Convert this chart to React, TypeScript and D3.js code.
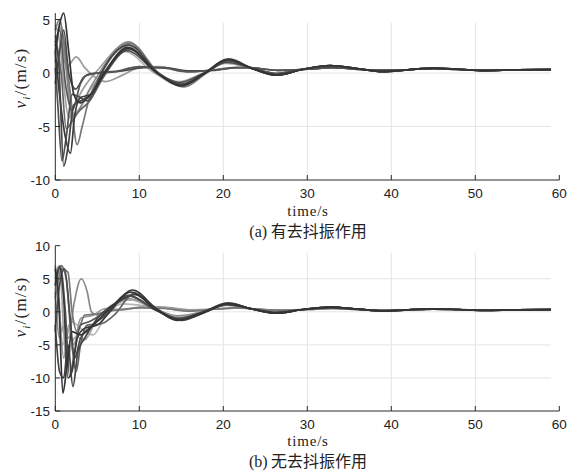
import React from "react";
import * as d3 from "d3";

type P = [number, number];

const xTicks = [0, 10, 20, 30, 40, 50, 60];
const topYTicks = [-10, -5, 0, 5];
const botYTicks = [-15, -10, -5, 0, 5, 10];

// tails (t >= 23)
const tailA: P[] = [[23.5, 0.4], [26.3, -0.2], [29.5, 0.35], [32.7, 0.7], [36, 0.4], [39, 0.12], [42, 0.3], [45, 0.45], [48, 0.35], [51, 0.22], [55, 0.3], [59, 0.32]];
const tailB: P[] = [[23.5, 0.45], [26.3, -0.05], [29.5, 0.35], [32.7, 0.6], [36, 0.4], [39, 0.18], [42, 0.3], [45, 0.42], [48, 0.35], [51, 0.25], [55, 0.3], [59, 0.32]];
const tailC: P[] = [[23, 0.5], [26.5, 0.25], [30, 0.35], [33, 0.5], [37, 0.3], [41, 0.3], [45, 0.4], [50, 0.28], [55, 0.3], [59, 0.32]];

const top1: P[] = [[0, 2], [0.5, 4.5], [1.0, 5.6], [1.6, 2], [2.2, -2], [3.0, -2.8], [4, -2.2], [5.8, 0], [8.6, 2.4], [12, 0.1], [15, -1.2], [17.8, 0], [20.5, 1.3]];
const top2: P[] = [[0, 3], [0.4, 1], [1.0, -8.7], [1.5, -7], [2.2, -3], [3.3, -2.5], [4.5, -1.8], [5.5, 0], [8.8, 2.6], [12.2, 0], [15.2, -1.1], [17.9, 0], [20.7, 1.2]];
const top3: P[] = [[0, 0.5], [0.3, -3], [0.8, -8.2], [1.3, -6], [2.0, -2], [2.8, -2.2], [3.8, -2.6], [5.7, -0.2], [8.5, 2.1], [12, 0.1], [14.8, -0.9], [17.7, 0], [20.4, 1.0]];
const top4: P[] = [[0, 4], [0.5, 5], [1, 3], [1.8, -2], [2.6, -6.7], [3.2, -5], [4, -2.5], [5.5, 0], [8.9, 2.8], [12.3, 0], [15.3, -1.3], [18, 0], [20.8, 1.3]];
const top5: P[] = [[0, 1], [0.6, 4.8], [1.2, 1], [2, -4], [2.8, -3.5], [3.6, -2.2], [5.4, 0.2], [8.7, 2.9], [12.1, 0], [15, -1.2], [17.8, 0], [20.6, 1.2]];
const top6: P[] = [[0, 3.5], [0.7, 0], [1.3, -5.2], [2.0, -4.5], [2.8, -3.6], [4, -2.7], [5.8, -0.3], [8.8, 2.2], [12.2, 0], [15.1, -1.0], [17.9, 0], [20.6, 1.1]];
const top7: P[] = [[0, 4.5], [0.5, 3], [1, -1], [1.6, -4.2], [2.3, -3], [3.3, -1.5], [5.2, 0.4], [8.4, 2.7], [11.9, 0], [14.9, -1.1], [17.7, 0], [20.4, 1.2]];
const top8: P[] = [[0, 2.5], [0.5, 4], [1.2, -1], [2, -3.5], [3, -1], [4, -0.1], [7, 0.1], [10, 0.6], [13, 0.45], [16, 0.1], [19, 0.3], [22, 0.5]];
const top9: P[] = [[0, 3], [0.6, 4.2], [1.3, 0.5], [2.5, 1.5], [3.5, 0.5], [6, -0.8], [8, -0.2], [10, 0.5], [12.5, 0.6], [15, 0.15], [18, 0.2], [21, 0.5]];
const top10: P[] = [[0, -1], [0.5, 2], [1, 4], [1.6, 0], [2.4, -1.5], [3.5, -0.3], [5, 0], [8, 0.2], [10.5, 0.5], [13, 0.5], [16, 0.2], [19, 0.25], [21.5, 0.5]];
const top11: P[] = [[0, 2], [0.5, -2], [1.2, -6], [1.8, -7.5], [2.3, -4], [3.0, -2.3], [4.2, -2], [5.9, 0], [8.7, 2.3], [12.1, 0], [15, -1.1], [17.8, 0], [20.5, 1.2]];
const top12: P[] = [[0, 1.5], [0.4, 4], [0.9, 3.5], [1.5, -0.5], [2.2, -3.8], [3, -3.2], [4.2, -1.5], [5.5, -0.2], [8.3, 2], [11.8, 0], [14.7, -0.8], [17.6, 0], [20.3, 0.9]];

const bot1: P[] = [[0, 6.5], [0.4, 2], [0.9, -12.3], [1.4, -8], [2, -3], [3, -3.5], [4.5, -2], [6.5, 0.5], [9, 3], [12, 0.3], [14.7, -1.2], [17.5, -0.2], [20.5, 1.2]];
const bot2: P[] = [[0, 5], [0.6, 6.8], [1.2, 0], [1.7, -9.8], [2.3, -6], [3, -2], [4, -1.5], [6, 0], [8.7, 2.4], [12, 0.2], [14.6, -1.0], [17.5, -0.1], [20.4, 1.1]];
const bot3: P[] = [[0, -2], [0.5, -9], [1, -10], [1.5, -5], [2.1, -11.3], [2.7, -6], [3.5, -4], [5, -1], [7.5, 1.5], [9.5, 2.6], [12.3, 0.2], [15, -1.3], [17.8, -0.1], [20.7, 1.3]];
const bot4: P[] = [[0, 3], [0.5, -4], [1, -2], [1.6, -4], [2.2, 1], [3.1, 5], [3.8, 3], [4.3, 0], [5, -0.5], [6.5, 0.8], [8.7, 2], [12, 0.4], [14.5, -0.6], [17.5, 0], [20.4, 1.0]];
const bot5: P[] = [[0, 6], [0.5, 7], [1, -3], [1.4, -8.5], [1.9, -5], [2.5, -3.8], [3.5, -4.2], [5, -1], [7, 1], [9, 1.8], [12, 0.3], [14.6, -0.8], [17.5, 0], [20.4, 1.0]];
const bot6: P[] = [[0, 4], [0.7, 7], [1.3, 5], [1.9, -4], [2.5, -9], [3, -5], [3.8, -2], [5.5, -1.8], [7, -0.5], [9.4, 2.8], [12.2, 0.3], [14.9, -1.2], [17.7, -0.1], [20.6, 1.2]];
const bot7: P[] = [[0, 7], [0.5, 0], [1, -7], [1.6, -2], [2.2, -5], [3, -1], [4.5, -0.5], [6, 0.5], [8, 0.3], [10.5, 0.8], [13, 0.7], [16, 0.3], [19, 0.4], [22, 0.6]];
const bot8: P[] = [[0, -3], [0.5, 4], [1.1, 6.5], [1.7, 0], [2.3, -7], [3, -4], [4, -2.5], [6, -0.5], [8.7, 2.5], [12, 0.3], [14.7, -1.0], [17.6, 0], [20.5, 1.1]];
const bot9: P[] = [[0, 6], [0.4, 3], [0.8, -5], [1.3, -4], [2, -1.5], [3, -2.5], [4.5, -3.5], [6, -0.5], [8, 1.2], [10, 1], [12.5, 0.7], [15, 0.2], [18, 0.3], [21, 0.6]];
const bot10: P[] = [[0, 2], [0.8, 6.5], [1.5, 6], [2, 0], [2.6, -3], [3.5, -0.5], [5, -0.3], [7, 0.2], [10, 0.6], [13, 0.5], [16, 0.1], [19, 0.4], [22, 0.6]];
const bot11: P[] = [[0, 4], [0.5, 6.8], [1.0, 2], [1.5, -10], [2, -9], [2.6, -4], [3.5, -2.5], [5, -2], [6.5, 0], [9.2, 3.3], [12, 0.5], [14.5, -1.3], [17.5, -0.1], [20.5, 1.3]];

const topSeries: { pts: P[]; tail: P[]; color: string }[] = [
  { pts: top9, tail: tailC, color: "#9a9a9a" },
  { pts: top12, tail: tailB, color: "#b0b0b0" },
  { pts: top7, tail: tailB, color: "#a0a0a0" },
  { pts: top5, tail: tailA, color: "#8a8a8a" },
  { pts: top4, tail: tailA, color: "#777777" },
  { pts: top6, tail: tailB, color: "#666666" },
  { pts: top10, tail: tailC, color: "#4a4a4a" },
  { pts: top8, tail: tailC, color: "#555555" },
  { pts: top3, tail: tailB, color: "#505050" },
  { pts: top11, tail: tailA, color: "#3a3a3a" },
  { pts: top2, tail: tailA, color: "#444444" },
  { pts: top1, tail: tailA, color: "#333333" },
];

const botSeries: { pts: P[]; tail: P[]; color: string }[] = [
  { pts: bot9, tail: tailC, color: "#b5b5b5" },
  { pts: bot4, tail: tailB, color: "#8a8a8a" },
  { pts: bot5, tail: tailB, color: "#a5a5a5" },
  { pts: bot7, tail: tailC, color: "#999999" },
  { pts: bot10, tail: tailC, color: "#777777" },
  { pts: bot2, tail: tailA, color: "#555555" },
  { pts: bot6, tail: tailA, color: "#666666" },
  { pts: bot8, tail: tailB, color: "#4a4a4a" },
  { pts: bot3, tail: tailA, color: "#444444" },
  { pts: bot11, tail: tailA, color: "#3a3a3a" },
  { pts: bot1, tail: tailA, color: "#333333" },
];

const x = d3.scaleLinear().domain([0, 60]).range([55.3, 559.3]);

const sans = "'Liberation Sans', Arial, sans-serif";
const serif = "'Liberation Serif', 'Times New Roman', serif";

function Panel({
  y, yTicks, series, axisTopV, gridTopV, label, caption, labelY, timeY, capY, tickY,
}: {
  y: d3.ScaleLinear<number, number>;
  yTicks: number[];
  series: { pts: P[]; tail: P[]; color: string }[];
  axisTopV: number;
  gridTopV: number;
  label: string;
  caption: string;
  labelY: number;
  timeY: number;
  capY: number;
  tickY: number;
}) {
  const [y0] = y.domain();
  const line = d3
    .line<P>()
    .x((d) => x(d[0]))
    .y((d) => y(d[1]))
    .curve(d3.curveMonotoneX);
  const bottom = y(y0);
  return (
    <g>
      {xTicks.slice(1, -1).map((t) => (
        <line key={"gx" + t} x1={x(t)} x2={x(t)} y1={bottom} y2={y(gridTopV)} stroke="#e4e4e4" strokeWidth={1} />
      ))}
      {yTicks.slice(1).filter((v) => v < gridTopV).map((v) => (
        <line key={"gy" + v} x1={x(0)} x2={x(59)} y1={y(v)} y2={y(v)} stroke="#e4e4e4" strokeWidth={1} />
      ))}
      {series.map((s, i) => (
        <path key={i} d={line([...s.pts, ...s.tail]) || ""} fill="none" stroke={s.color} strokeWidth={1.7} strokeLinejoin="round" />
      ))}
      <line x1={x(0)} x2={x(60)} y1={bottom} y2={bottom} stroke="#2a2a2a" strokeWidth={1} />
      <line x1={x(0)} x2={x(0)} y1={bottom} y2={y(axisTopV)} stroke="#2a2a2a" strokeWidth={1} />
      {xTicks.map((t) => (
        <g key={"xt" + t}>
          <line x1={x(t)} x2={x(t)} y1={bottom} y2={bottom - 5} stroke="#2a2a2a" />
          <text x={x(t)} y={tickY} textAnchor="middle" fontFamily={sans} fontSize={13.5} fill="#222">
            {t}
          </text>
        </g>
      ))}
      {yTicks.map((v) => (
        <g key={"yt" + v}>
          <line x1={x(0)} x2={x(0) + 5} y1={y(v)} y2={y(v)} stroke="#2a2a2a" />
          <text x={50} y={y(v) + 5} textAnchor="end" fontFamily={sans} fontSize={13.5} fill="#222">
            {v}
          </text>
        </g>
      ))}
      <text transform={`translate(26,${labelY}) rotate(-90)`} textAnchor="middle" fontFamily={serif} fontSize={17} fill="#222" letterSpacing={1.2}>
        <tspan fontStyle="italic">v</tspan>
        <tspan fontStyle="italic" fontSize={11} dy={4}>i</tspan>
        <tspan dy={-4}>/(m/s)</tspan>
      </text>
      <text x={308} y={timeY} textAnchor="middle" fontFamily={serif} fontSize={15} fill="#222" letterSpacing={0.8}>
        {label}
      </text>
      <text x={308} y={capY} textAnchor="middle" fontFamily={serif} fontSize={16} fill="#222">
        <tspan>{caption.slice(0, 3)}</tspan>
        <tspan fontFamily="'Noto Sans CJK SC', sans-serif" fontSize={16}>{caption.slice(3)}</tspan>
      </text>
    </g>
  );
}

export default function App() {
  const yTop = d3.scaleLinear().domain([-10, 5]).range([180, 19.5]);
  const yBot = d3.scaleLinear().domain([-15, 10]).range([411, 245.7]);
  return (
    <svg width={568} height={472} style={{ position: "absolute", left: 0, top: 0, background: "#fff" }}>
      <Panel y={yTop} yTicks={topYTicks} series={topSeries} axisTopV={5.6} gridTopV={4.7} label="time/s" caption="(a) 有去抖振作用" labelY={78} timeY={216} capY={237} tickY={198} />
      <Panel y={yBot} yTicks={botYTicks} series={botSeries} axisTopV={10} gridTopV={8.9} label="time/s" caption="(b) 无去抖振作用" labelY={307} timeY={446} capY={467} tickY={429} />
    </svg>
  );
}
